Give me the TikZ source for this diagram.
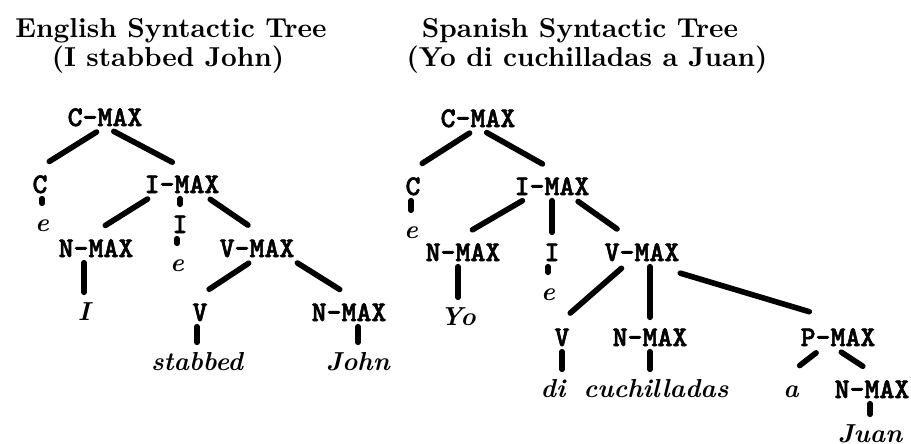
\documentclass[tikz,border=0pt]{standalone}
\usepackage{fontspec}
\newfontfamily\catfont{lmmonolt10-bold.otf}[FakeBold=2]
\newfontfamily\headfont{lmroman10-bold.otf}
\newfontfamily\wordfont{lmroman10-bolditalic.otf}
\begin{document}
\begin{tikzpicture}[
  heading/.style={font=\fontsize{7.8}{9}\headfont, inner sep=0pt, anchor=base},
  cat/.style={font=\fontsize{8.1}{9}\catfont, inner sep=0pt, anchor=base, text height=2.5mm, text depth=0pt},
  word/.style={font=\fontsize{7.4}{9}\wordfont, inner sep=0pt, anchor=base, text height=2.4mm, text depth=0pt},
  branch/.style={line width=1.6pt, line cap=round, shorten <=1mm, shorten >=1.1mm},
  stem/.style={line width=1.6pt, line cap=round, shorten <=0.5mm, shorten >=0.3mm}
]
\useasboundingbox (0,0) rectangle (9.11,-4.44);

% headings
\node[heading] (headE) at (1.71,-0.37) {English Syntactic Tree};
\node[heading] (sentE) at (1.68,-0.66) {(I stabbed John)};
\node[heading] (headS) at (5.80,-0.37) {Spanish Syntactic Tree};
\node[heading] (sentS) at (5.87,-0.66) {(Yo di cuchilladas a Juan)};

% English tree
\node[cat] (cmaxE) at (1.05,-1.26) {C-MAX};
\node[cat] (cE) at (0.40,-1.93) {C};
\node[cat] (imaxE) at (1.82,-1.93) {I-MAX};
\node[word] (eC) at (0.42,-2.31) {e};
\node[cat] (iE) at (1.80,-2.33) {I};
\node[word] (eI) at (1.77,-2.71) {e};
\node[cat] (nmaxE) at (0.96,-2.57) {N-MAX};
\node[cat] (vmaxE) at (2.57,-2.57) {V-MAX};
\node[word] (wI) at (0.84,-3.20) {I};
\node[cat] (vE) at (2.00,-3.21) {V};
\node[cat] (nmaxJ) at (3.49,-3.21) {N-MAX};
\node[word] (stabbed) at (1.97,-3.70) {stabbed};
\node[word] (john) at (3.58,-3.70) {John};

\draw[branch] (cmaxE.south) -- (cE.north);
\draw[branch] (cmaxE.south) -- (imaxE.north);
\draw[stem] (cE.south -| eC.north) -- (eC.north);
\draw[branch] ([xshift=-2.6mm]imaxE.south) -- (nmaxE.north);
\draw[stem] (imaxE.south -| iE.north) -- (iE.north);
\draw[branch] ([xshift=2mm]imaxE.south) -- (vmaxE.north);
\draw[stem] (iE.south -| eI.north) -- (eI.north);
\draw[stem] (nmaxE.south -| wI.north) -- (wI.north);
\draw[branch] (vmaxE.south) -- (vE.north);
\draw[branch] ([xshift=3.2mm]vmaxE.south) -- (nmaxJ.north);
\draw[stem] (vE.south -| stabbed.north) -- (stabbed.north);
\draw[stem] (nmaxJ.south -| john.north) -- (john.north);

% Spanish tree
\node[cat] (cmaxS) at (4.78,-1.27) {C-MAX};
\node[cat] (cS) at (4.13,-1.95) {C};
\node[cat] (imaxS) at (5.52,-1.95) {I-MAX};
\node[word] (eCS) at (4.11,-2.38) {e};
\node[cat] (nmaxS) at (4.63,-2.61) {N-MAX};
\node[cat] (iS) at (5.52,-2.61) {I};
\node[cat] (vmaxS) at (6.42,-2.61) {V-MAX};
\node[word] (eIS) at (5.48,-3.00) {e};
\node[word] (yo) at (4.58,-3.25) {Yo};
\node[cat] (vS) at (5.62,-3.46) {V};
\node[cat] (nmaxC) at (6.50,-3.46) {N-MAX};
\node[cat] (pmaxS) at (8.38,-3.46) {P-MAX};
\node[word] (di) at (5.53,-3.97) {di};
\node[word] (cuch) at (6.56,-3.97) {cuchilladas};
\node[word] (a) at (7.91,-3.97) {a};
\node[cat] (nmaxJu) at (8.72,-3.98) {N-MAX};
\node[word] (juan) at (8.70,-4.42) {Juan};

\draw[branch] (cmaxS.south) -- (cS.north);
\draw[branch] (cmaxS.south) -- (imaxS.north);
\draw[stem] (cS.south -| eCS.north) -- (eCS.north);
\draw[branch] ([xshift=-2.1mm]imaxS.south) -- (nmaxS.north);
\draw[stem] (imaxS.south) -- (iS.north);
\draw[branch] ([xshift=1.8mm]imaxS.south) -- ([xshift=-1.6mm]vmaxS.north);
\draw[stem] (iS.south -| eIS.north) -- (eIS.north);
\draw[stem] (nmaxS.south -| yo.north) -- (yo.north);
\draw[branch] ([xshift=-1.3mm]vmaxS.south) -- (vS.north);
\draw[stem] (vmaxS.south -| nmaxC.north) -- (nmaxC.north);
\draw[branch, shorten <=4mm, shorten >=3mm] (vmaxS.south) -- (pmaxS.north);
\draw[stem] (vS.south) -- (vS.south |- di.north);
\draw[stem] (nmaxC.south) -- (nmaxC.south |- cuch.north);
\draw[branch] ([xshift=-1.4mm]pmaxS.south) -- (a.north);
\draw[branch] ([xshift=-0.5mm]pmaxS.south) -- (nmaxJu.north);
\draw[stem] (nmaxJu.south -| juan.north) -- (juan.north);
\end{tikzpicture}
\end{document}
